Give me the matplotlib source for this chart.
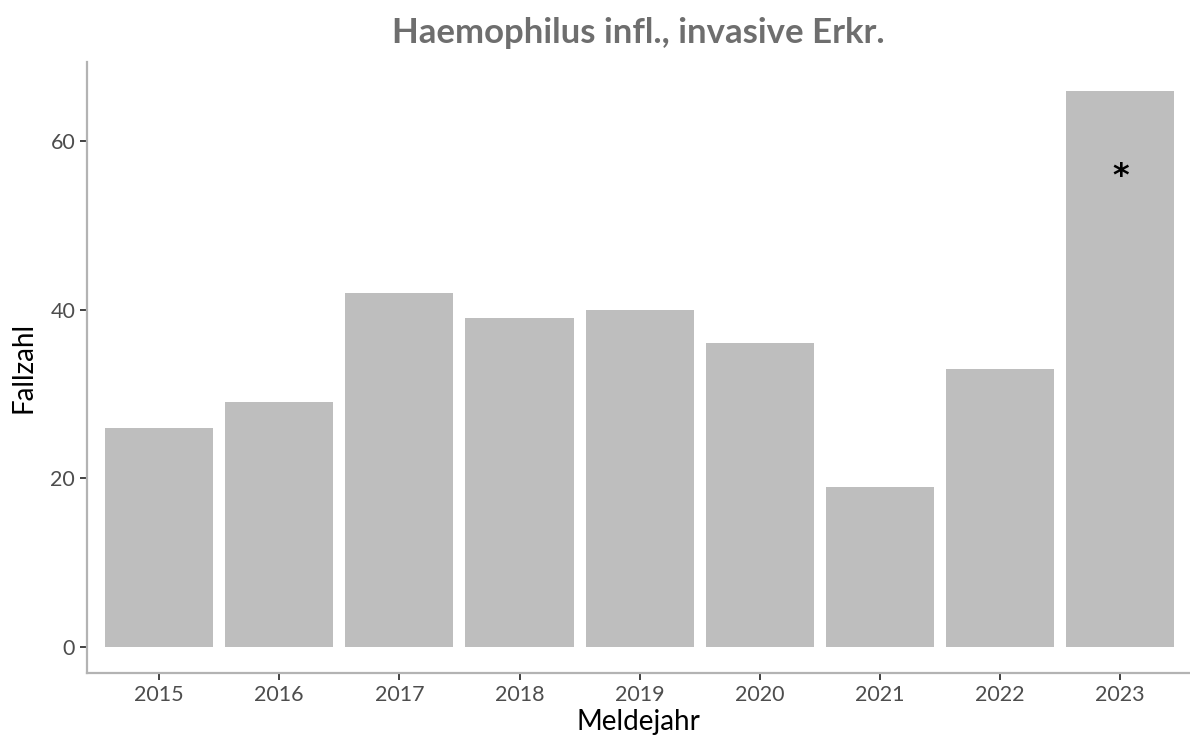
import matplotlib
matplotlib.use("Agg")
import matplotlib.pyplot as plt

jahre = ["2015", "2016", "2017", "2018", "2019", "2020", "2021", "2022", "2023"]
fallzahl = [26, 29, 42, 39, 40, 36, 19, 33, 66]
stern_jahr = "2023"

plt.rcParams["font.family"] = ["Lato", "DejaVu Sans"]

fig = plt.figure(figsize=(11.9, 7.45), dpi=100)
ax = fig.add_axes([87 / 1190, 72 / 745, 1103 / 1190, 611 / 745])

x = list(range(len(jahre)))
ax.bar(x, fallzahl, width=0.9, color="#bebebe")

# Stern über dem letzten Jahr
i = jahre.index(stern_jahr)
ax.text(i, 55.8, "*", ha="center", va="center", fontsize=23, color="black",
        family="DejaVu Sans", fontweight="bold")

ax.set_xlim(-0.6, len(jahre) - 0.42)
ax.set_ylim(-3.1, 69.4)
ax.set_xticks(x)
ax.set_xticklabels(jahre)
ax.set_yticks([0, 20, 40, 60])

for s in ["top", "right"]:
    ax.spines[s].set_visible(False)
for s in ["left", "bottom"]:
    ax.spines[s].set_color("#b3b3b3")
    ax.spines[s].set_linewidth(1.6)

ax.tick_params(labelcolor="#4d4d4d", labelsize=15.5, length=5, width=1.3,
               color="#333333")

ax.set_xlabel("Meldejahr", fontsize=20, color="black", labelpad=3)
ax.set_ylabel("Fallzahl", fontsize=20, color="black", labelpad=10)
ax.set_title("Haemophilus infl., invasive Erkr.", fontsize=25, fontweight="bold",
             color="#6e6e6e", pad=14)

fig.savefig("out.png", dpi=100)
